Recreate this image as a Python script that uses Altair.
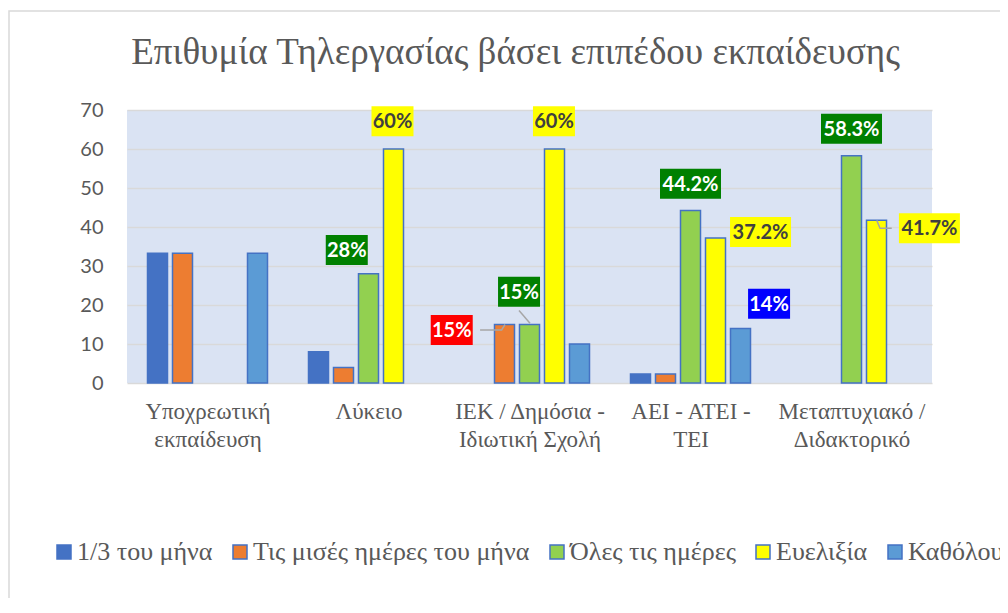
import altair as alt
import pandas as pd

# ---------------- data ----------------
categories = ["Υποχρεωτική εκπαίδευση", "Λύκειο", "ΙΕΚ / Δημόσια - Ιδιωτική Σχολή",
              "ΑΕΙ - ΑΤΕΙ - ΤΕΙ", "Μεταπτυχιακό / Διδακτορικό"]
category_lines = [["Υποχρεωτική", "εκπαίδευση"], ["Λύκειο"], ["ΙΕΚ / Δημόσια -", "Ιδιωτική Σχολή"],
                  ["ΑΕΙ - ΑΤΕΙ -", "ΤΕΙ"], ["Μεταπτυχιακό /", "Διδακτορικό"]]
series = ["1/3 του μήνα", "Τις μισές ημέρες του μήνα", "Όλες τις ημέρες", "Ευελιξία", "Καθόλου"]
v_third = [33.3, 8, 0, 2.3, 0]
v_half = [33.3, 4, 15, 2.3, 0]
v_all = [0, 28, 15, 44.2, 58.3]
v_flex = [0, 60, 60, 37.2, 41.7]
v_none = [33.3, 0, 10, 14, 0]
series_values = [v_third, v_half, v_all, v_flex, v_none]
colors = ["#4472C4", "#ED7D31", "#92D050", "#FFFF00", "#5B9BD5"]

# data labels (text, anchor in data units: x = category index, y = value axis)
label_text = ["28%", "60%", "15%", "15%", "60%", "44.2%", "37.2%", "14%", "58.3%", "41.7%"]
label_x = [0.865, 1.149, 1.517, 1.935, 2.152, 3.0, 3.435, 3.488, 4.0, 4.484]
label_y = [34.1, 67.1, 13.6, 23.4, 67.1, 51.1, 38.7, 20.3, 65.2, 39.7]
label_bg = ["#008000", "#FFFF00", "#FF0000", "#008000", "#FFFF00",
            "#008000", "#FFFF00", "#0000FF", "#008000", "#FFFF00"]
label_fg = ["white", "#404040", "white", "white", "#404040",
            "white", "#404040", "white", "white", "#404040"]

# leader lines (data units)
leader_id = [0, 0, 0, 1, 1, 2, 2, 2]
leader_x = [1.693, 1.827, 1.848, 1.935, 2.003, 4.157, 4.177, 4.25]
leader_y = [13.6, 13.6, 15.0, 18.6, 15.3, 41.7, 39.7, 39.7]

# ---------------- frames ----------------
rows = []
for si, (s, vals) in enumerate(zip(series, series_values)):
    for ci, (c, v) in enumerate(zip(categories, vals)):
        if v > 0:
            rows.append({"cat": c, "ci": ci, "series": s, "si": si, "value": v})
bars_df = pd.DataFrame(rows)

PX_X = 161.0          # pixels per category unit
PX_Y = 273.0 / 70.0   # pixels per value unit
SLOT = 25 / PX_X
BAR_HALF = 10 / PX_X

lab_df = pd.DataFrame({"text": label_text, "lx": label_x, "ly": label_y,
                       "bg": label_bg, "fg": label_fg})
lab_df["hw"] = [(21 if len(t) <= 3 else 30.5) / PX_X for t in label_text]
lab_df["hh"] = 15 / PX_Y

lead_df = pd.DataFrame({"id": leader_id, "x": leader_x, "y": leader_y,
                        "order": list(range(len(leader_x)))})

arr = "[" + ",".join("[" + ",".join("'" + l + "'" for l in lines) + "]" for lines in category_lines) + "]"

SERIF = "Liberation Serif"

xscale = alt.Scale(domain=[-0.5, 4.5], nice=False, zero=False)
yscale = alt.Scale(domain=[0, 70], nice=False)
xaxis = alt.Axis(values=[0, 1, 2, 3, 4], labelExpr=f"{arr}[datum.value]", title=None,
                 ticks=False, domain=False, grid=False, labelFont=SERIF,
                 labelFontSize=23, labelColor="#595959", labelPadding=17, labelLineHeight=28,
                 labelBaseline="top")
yaxis = alt.Axis(values=[0, 10, 20, 30, 40, 50, 60, 70], title=None, ticks=False, domain=False,
                 grid=True, gridColor="#D9D9D9", gridWidth=1.5, labelFont="Lato",
                 labelFontSize=20, labelColor="#595959", labelPadding=24)

base = alt.Chart(bars_df)
bars = base.mark_bar(stroke="#4472C4", strokeWidth=1.5).transform_calculate(
    xc=f"datum.ci + (datum.si - 2) * {SLOT}"
).transform_calculate(
    x0=f"datum.xc - {BAR_HALF}", x1=f"datum.xc + {BAR_HALF}"
).encode(
    x=alt.X("x0:Q", scale=xscale, axis=xaxis),
    x2="x1:Q",
    y=alt.Y("value:Q", scale=yscale, axis=yaxis),
    y2=alt.datum(0),
    color=alt.Color("series:N", scale=alt.Scale(domain=series, range=colors),
                    sort=series,
                    legend=alt.Legend(title=None, orient="none", direction="horizontal",
                                      legendX=-76, legendY=429, symbolType="square",
                                      symbolSize=196, symbolStrokeColor="#4472C4",
                                      symbolStrokeWidth=1.5, labelFont=SERIF,
                                      labelFontSize=26, labelColor="#595959",
                                      labelOffset=0, columnPadding=14, columns=5,
                                      labelLimit=500)),
)

leaders = alt.Chart(lead_df).mark_line(color="#A6A6A6", strokeWidth=1.5).encode(
    x=alt.X("x:Q", scale=xscale, axis=xaxis),
    y=alt.Y("y:Q", scale=yscale, axis=yaxis),
    detail="id:N",
    order="order:Q",
)

boxes = alt.Chart(lab_df).mark_rect().transform_calculate(
    x0="datum.lx - datum.hw", x1="datum.lx + datum.hw",
    y0="datum.ly - datum.hh", y1="datum.ly + datum.hh"
).encode(
    x=alt.X("x0:Q", scale=xscale, axis=xaxis), x2="x1:Q",
    y=alt.Y("y0:Q", scale=yscale, axis=yaxis), y2="y1:Q",
    fill=alt.Fill("bg:N", scale=None),
)

texts = alt.Chart(lab_df).mark_text(font="Lato", fontWeight="bold", fontSize=20,
                                    baseline="middle", align="center", dy=1).encode(
    x=alt.X("lx:Q", scale=xscale, axis=xaxis),
    y=alt.Y("ly:Q", scale=yscale, axis=yaxis),
    text="text:N",
    color=alt.Color("fg:N", scale=None),
)

frame = alt.Chart(pd.DataFrame({"a": [0]})).mark_rect(
    fill=None, stroke="#D9D9D9", strokeWidth=1.5
).encode(x=alt.value(-118), x2=alt.value(1000), y=alt.value(-99), y2=alt.value(600))

chart = alt.layer(frame, bars, leaders, boxes, texts).properties(
    width=805, height=273,
    title=alt.TitleParams("Επιθυμία Τηλεργασίας βάσει επιπέδου εκπαίδευσης",
                          font=SERIF, fontSize=37, fontWeight="normal",
                          color="#595959", anchor="middle", frame="group",
                          baseline="alphabetic", offset=-91, dx=-14),
    autosize=alt.AutoSizeParams(type="none"),
    padding={"left": 119, "top": 102, "right": 68, "bottom": 215},
).configure(
    background="white",
    view=alt.ViewConfig(fill="#DAE3F3", stroke=None),
    axisX=alt.AxisConfig(labelFont=SERIF),
    legend=alt.LegendConfig(labelFont=SERIF),
)

chart.save("out.html", embed_options={"renderer": "svg", "actions": False})
